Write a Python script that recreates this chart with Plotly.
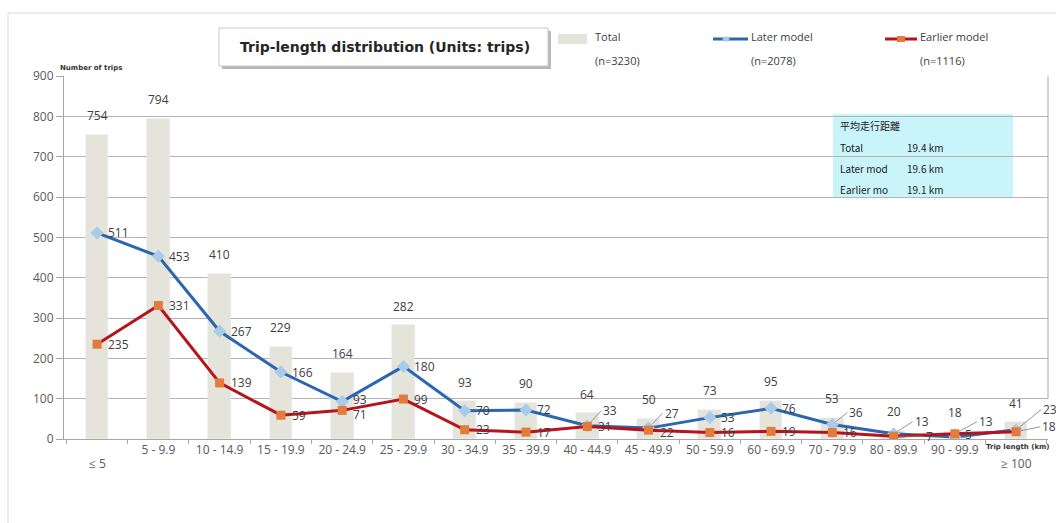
import plotly.graph_objects as go

# Trip-length bands (km)
categories = ["≤ 5", "5 - 9.9", "10 - 14.9", "15 - 19.9", "20 - 24.9", "25 - 29.9",
              "30 - 34.9", "35 - 39.9", "40 - 44.9", "45 - 49.9", "50 - 59.9",
              "60 - 69.9", "70 - 79.9", "80 - 89.9", "90 - 99.9", "≥ 100"]
total = [754, 794, 410, 229, 164, 282, 93, 90, 64, 50, 73, 95, 53, 20, 18, 41]
later = [511, 453, 267, 166, 93, 180, 70, 72, 33, 27, 53, 76, 36, 13, 5, 23]
earlier = [235, 331, 139, 59, 71, 99, 23, 17, 31, 22, 16, 19, 16, 7, 13, 18]

series_names = ["Total", "Later model", "Earlier model"]
series_n = [3230, 2078, 1116]

avg_title = "平均走行距離"
avg_labels = ["Total", "Later mod", "Earlier mo"]
avg_km = [19.4, 19.6, 19.1]

W, H = 1056, 523
L, R, T, B = 64, 1048, 76, 439

BAR_C = "#E4E4DA"
LATER_C = "#2B66B0"
LATER_M = "#A8CBEA"
EARLIER_C = "#B8121B"
EARLIER_M = "#E27B3B"
TXT = "#404040"
FONT = "Open Sans"


def px(x):
    return (x - L) / (R - L)


def py(y):
    return (B - y) / (B - T)


fig = go.Figure()
fig.add_trace(go.Bar(x=categories, y=total, marker_color=BAR_C, width=0.37,
                     name=series_names[0], hoverinfo="x+y"))
fig.add_trace(go.Scatter(x=categories, y=later, mode="lines+markers", name=series_names[1],
                         line=dict(color=LATER_C, width=3),
                         marker=dict(symbol="diamond", size=10, color=LATER_M)))
fig.add_trace(go.Scatter(x=categories, y=earlier, mode="lines+markers", name=series_names[2],
                         line=dict(color=EARLIER_C, width=3),
                         marker=dict(symbol="square", size=9, color=EARLIER_M)))

ann = []
lab_font = dict(family=FONT, size=12, color=TXT)

# totals above the bars
for c, v in zip(categories, total):
    ann.append(dict(x=c, y=v, xref="x", yref="y", text=str(v), showarrow=False,
                    yshift=19, xanchor="center", yanchor="middle", font=lab_font))

# labels with leader lines: (series, index) -> (dx, dy) in px
leaders = {
    ("later", 8): (14, -15), ("later", 9): (14, -15), ("later", 12): (15, -12),
    ("later", 13): (19, -12), ("later", 15): (25, -20),
    ("earlier", 13): (30, 0), ("earlier", 14): (22, -12), ("earlier", 15): (24, -5),
}
# plain labels nudged away from their default spot: (dx, dy) in px, dy down
shifts = {("later", 14): (8, -2), ("later", 4): (9, -2), ("earlier", 4): (9, 4),
          ("earlier", 9): (9, 2)}

for key, vals in (("later", later), ("earlier", earlier)):
    for i, (c, v) in enumerate(zip(categories, vals)):
        if (key, i) in leaders:
            dx, dy = leaders[(key, i)]
            ann.append(dict(x=c, y=v, xref="x", yref="y", text=str(v), showarrow=True,
                            ax=dx, ay=dy, arrowhead=0, arrowwidth=0.8, arrowcolor="#7F7F7F",
                            standoff=5, xanchor="left", yanchor="middle", font=lab_font))
        else:
            dx, dy = shifts.get((key, i), (9, 0))
            ann.append(dict(x=c, y=v, xref="x", yref="y", text=str(v), showarrow=False,
                            xanchor="left", yanchor="middle", xshift=dx, yshift=-dy,
                            font=lab_font))

# first and last band labels sit a little lower
for c in (categories[0], categories[-1]):
    ann.append(dict(x=c, y=py(464), xref="x", yref="paper", text=c, showarrow=False,
                    xanchor="center", yanchor="middle",
                    font=dict(family=FONT, size=12, color="#595959")))

# axis captions
ann.append(dict(x=px(58), y=py(68), xref="paper", yref="paper", text="<b>Number of trips</b>",
                showarrow=False, xanchor="left", yanchor="middle",
                font=dict(family="DejaVu Sans", size=7, color="#333333")))
ann.append(dict(x=px(984), y=py(447), xref="paper", yref="paper", text="<b>Trip length (km)</b>",
                showarrow=False, xanchor="left", yanchor="middle",
                font=dict(family="DejaVu Sans", size=7, color="#333333")))

# title
ann.append(dict(x=px(385), y=py(47), xref="paper", yref="paper",
                text="<b>Trip-length distribution (Units: trips)</b>", showarrow=False,
                xanchor="center", yanchor="middle",
                font=dict(family="DejaVu Sans", size=14, color="#262626")))

# legend
leg_font = dict(family=FONT, size=11, color=TXT)
leg_text_x = [593, 749, 918]
for name, n, x0 in zip(series_names, series_n, leg_text_x):
    ann.append(dict(x=px(x0), y=py(37), xref="paper", yref="paper", text=name,
                    showarrow=False, xanchor="left", yanchor="middle", font=leg_font))
    ann.append(dict(x=px(x0), y=py(60), xref="paper", yref="paper", text=f"(n={n})",
                    showarrow=False, xanchor="left", yanchor="middle", font=leg_font))

# average trip length box
box_font = dict(family="Noto Sans CJK JP", size=10, color="#222222")
ann.append(dict(x=px(838), y=py(125), xref="paper", yref="paper", text=avg_title,
                showarrow=False, xanchor="left", yanchor="middle", font=box_font))
for k, (lab, km) in enumerate(zip(avg_labels, avg_km)):
    yy = 147 + k * 21
    ann.append(dict(x=px(838), y=py(yy), xref="paper", yref="paper", text=lab,
                    showarrow=False, xanchor="left", yanchor="middle", font=box_font))
    ann.append(dict(x=px(905), y=py(yy), xref="paper", yref="paper", text=f"{km} km",
                    showarrow=False, xanchor="left", yanchor="middle", font=box_font))

shapes = [
    # outer frame
    dict(type="rect", xref="paper", yref="paper", x0=px(8), x1=px(1070), y0=py(13), y1=py(540),
         line=dict(color="#D9D9D9", width=1), layer="below"),
    # title box with shadow
    dict(type="rect", xref="paper", yref="paper", x0=px(222), x1=px(551), y0=py(31), y1=py(69),
         fillcolor="#B8B8B8", line=dict(width=0)),
    dict(type="rect", xref="paper", yref="paper", x0=px(219), x1=px(548), y0=py(28), y1=py(66),
         fillcolor="white", line=dict(color="#C8C8C8", width=1)),
    # legend swatches
    dict(type="rect", xref="paper", yref="paper", x0=px(558), x1=px(587), y0=py(34), y1=py(44),
         fillcolor=BAR_C, line=dict(width=0)),
    dict(type="line", xref="paper", yref="paper", x0=px(713), x1=px(748), y0=py(39), y1=py(39),
         line=dict(color=LATER_C, width=3)),
    dict(type="path", xref="paper", yref="paper",
         path=f"M {px(726)} {py(36)} L {px(730)} {py(39)} L {px(726)} {py(42)} L {px(722)} {py(39)} Z",
         fillcolor=LATER_M, line=dict(width=0)),
    dict(type="line", xref="paper", yref="paper", x0=px(885), x1=px(917), y0=py(39), y1=py(39),
         line=dict(color=EARLIER_C, width=3)),
    dict(type="rect", xref="paper", yref="paper", x0=px(897), x1=px(905), y0=py(36), y1=py(42),
         fillcolor=EARLIER_M, line=dict(width=0)),
    # average box
    dict(type="rect", xref="paper", yref="paper", x0=px(833), x1=px(1013), y0=py(114), y1=py(198),
         fillcolor="#C8F4FA", line=dict(width=0), layer="below"),
    # right border of the plot area
    dict(type="line", xref="paper", yref="y", x0=1, x1=1, y0=100, y1=900,
         line=dict(color="#A6A6A6", width=1)),
]

fig.update_layout(
    width=W, height=H,
    margin=dict(l=L, r=W - R, t=T, b=H - B),
    paper_bgcolor="white", plot_bgcolor="white",
    showlegend=False, bargap=0,
    annotations=ann, shapes=shapes,
    font=dict(family=FONT, size=12, color="#595959"),
)
fig.update_xaxes(type="category", categoryorder="array", categoryarray=categories,
                 range=[-0.54, 15.52], tickmode="array", tickvals=categories,
                 ticktext=[""] + categories[1:-1] + [""],
                 tickson="boundaries", ticks="outside", ticklen=4, tickcolor="#A6A6A6",
                 showline=True, linecolor="#A6A6A6", linewidth=1, showgrid=False,
                 tickfont=dict(family=FONT, size=12, color="#595959"))
fig.update_yaxes(range=[0, 900], tick0=0, dtick=100, ticks="outside", ticklen=7,
                 tickcolor="#A6A6A6", showline=True, linecolor="#A6A6A6", linewidth=1,
                 showgrid=True, gridcolor="#B4B4B4", gridwidth=1, zeroline=False,
                 tickfont=dict(family=FONT, size=12, color="#595959"))

fig.write_html("out.html")
